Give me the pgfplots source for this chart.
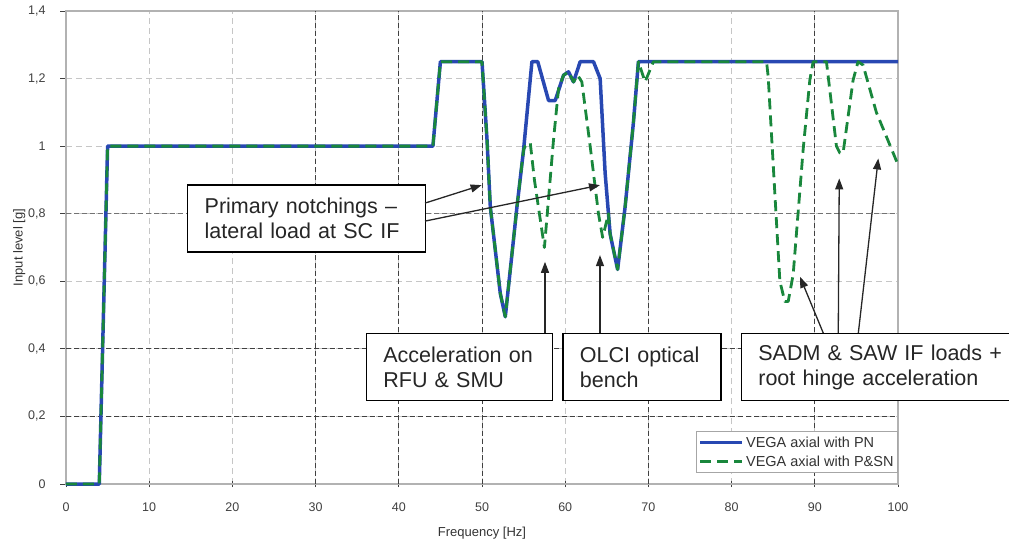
\documentclass[border=0pt]{standalone}
\usepackage{fontspec}
\setmainfont{Liberation Sans}
\usepackage{pgfplots}
\pgfplotsset{compat=1.18}
\usetikzlibrary{arrows.meta}
\definecolor{pnblue}{RGB}{40,72,178}
\definecolor{psgreen}{RGB}{25,135,60}

\pgfplotstableread{
x y
0 0
4 0
5 1
44.1 1
45 1.25
50 1.25
50.6 1.02
51 0.82
52.2 0.564
52.8 0.495
54.2 0.82
55.0 0.99
56.0 1.25
56.7 1.25
58.0 1.135
58.8 1.135
59.8 1.21
60.4 1.22
61.0 1.19
61.8 1.25
63.4 1.25
64.2 1.20
64.8 0.92
65.4 0.74
66.3 0.635
67.2 0.82
68.2 1.07
68.8 1.25
100 1.25
}\pnTable

\pgfplotstableread{
x y
0 0
4 0
5 1
44.1 1
45 1.25
50 1.25
50.6 1.02
51 0.82
52.2 0.564
52.8 0.495
54.2 0.82
55.0 0.99
55.2 1.0
55.8 1.01
56.3 0.90
57.5 0.70
58.6 1.02
59.2 1.17
59.8 1.21
60.4 1.22
61.0 1.19
61.5 1.21
62.0 1.19
63.0 1.00
64.0 0.80
64.5 0.73
65.2 0.80
65.4 0.74
66.3 0.635
67.2 0.82
68.2 1.07
68.8 1.25
69.6 1.19
70.6 1.25
84.2 1.25
84.4 1.205
85.8 0.60
86.4 0.54
86.8 0.54
87.4 0.62
88.6 0.99
89.4 1.195
89.8 1.25
91.4 1.25
92.6 1.00
93.0 0.98
93.4 0.98
94.6 1.195
95.2 1.25
95.8 1.24
97.4 1.10
100 0.945
}\psnTable

\begin{document}
\begin{tikzpicture}[x=1pt,y=1pt]
\tikzset{annot/.style={draw=black, line width=1.4pt, fill=white,
    font=\fontsize{21.5}{25}\selectfont, align=left, anchor=north west,
    inner xsep=17pt, inner ysep=0pt, minimum height=67pt, text=black!85},
  arr/.style={line width=1.3pt, black!85, -{Triangle[length=11pt,width=8pt]}},
  darkgrid/.style={black!75, line width=0.9pt, dash pattern=on 5pt off 3pt}}
\begin{axis}[
  at={(0pt,0pt)}, anchor=south west,
  scale only axis, width=832pt, height=473pt,
  xmin=0, xmax=100, ymin=0, ymax=1.4,
  xtick={0,10,...,100},
  xticklabels={0,10,20,30,40,50,60,70,80,90,100},
  ytick={0,0.2,0.4,0.6,0.8,1,1.2,1.4},
  yticklabels={0,{0,2},{0,4},{0,6},{0,8},1,{1,2},{1,4}},
  tick label style={font=\fontsize{12.5}{12.5}\selectfont, text=black!75},
  xticklabel style={yshift=-12pt},
  yticklabel style={xshift=-11pt},
  xtick pos=bottom, ytick pos=left,
  xtick align=center, ytick align=outside,
  major tick length=6pt,
  tick style={black!75, line width=0.9pt},
  grid=major,
  major grid style={gray!45, line width=0.8pt, dash pattern=on 6pt off 4pt},
  axis line style={gray!60, line width=1.2pt},
  xlabel={Frequency [Hz]}, ylabel={Input level [g]},
  xlabel style={yshift=-9pt},
  ylabel style={yshift=-4pt},
  label style={font=\fontsize{13}{13}\selectfont, text=black!80},
  clip=false,
  legend style={at={(1,0.0233)}, anchor=south east,
    font=\fontsize{14.5}{14.5}\selectfont, draw=gray!70, line width=0.9pt,
    inner xsep=2pt, inner ysep=3pt, row sep=3pt, text=black!80,
    nodes={inner sep=2pt}},
  legend cell align=left,
  legend image code/.code={\draw[#1] (0pt,0pt) -- (42pt,0pt);},
]
\draw[darkgrid] (axis cs:30,0) -- (axis cs:30,1.4);
\draw[darkgrid] (axis cs:40,0) -- (axis cs:40,1.4);
\draw[darkgrid] (axis cs:50,0) -- (axis cs:50,1.4);
\draw[darkgrid] (axis cs:70,0) -- (axis cs:70,1.4);
\draw[darkgrid] (axis cs:90,0) -- (axis cs:90,1.4);
\draw[darkgrid] (axis cs:0,0.2) -- (axis cs:100,0.2);
\draw[darkgrid] (axis cs:0,0.4) -- (axis cs:100,0.4);
\draw[darkgrid, black!55] (axis cs:0,0.8) -- (axis cs:100,0.8);

\addplot[pnblue, line width=3.5pt, line join=round] table[x=x,y=y] {\pnTable};
\addlegendentry{VEGA axial with PN}
\addplot[psgreen, line width=2.8pt, dash pattern=on 11pt off 6pt, line join=round] table[x=x,y=y] {\psnTable};
\addlegendentry{VEGA axial with P\&SN}

\node[annot, text width=204pt] at (axis cs:14.54,0.8876) {Primary notchings –\\lateral load at SC IF};
\node[annot, text width=152pt] at (axis cs:36.02,0.4467) {Acceleration on\\RFU \& SMU};
\node[annot, text width=124pt] at (axis cs:59.65,0.4467) {OLCI optical\\bench};
\node[annot, text width=320pt] at (axis cs:81.09,0.4467) {SADM \& SAW IF loads +\\root hinge acceleration};

\draw[arr] (axis cs:43.15,0.8314) -- (axis cs:49.96,0.8846);
\draw[arr] (axis cs:43.15,0.7781) -- (axis cs:64.18,0.8846);
\draw[arr] (axis cs:57.57,0.4467) -- (axis cs:57.57,0.6577);
\draw[arr] (axis cs:64.18,0.4467) -- (axis cs:64.18,0.6775);
\draw[arr] (axis cs:91.02,0.4467) -- (axis cs:88.22,0.6133);
\draw[arr] (axis cs:92.82,0.4467) -- (axis cs:92.94,0.9044);
\draw[arr] (axis cs:95.23,0.4467) -- (axis cs:97.63,0.9636);
\end{axis}
\pgfresetboundingbox
\useasboundingbox (-66pt,-58pt) rectangle (943pt,484pt);
\end{tikzpicture}
\end{document}
